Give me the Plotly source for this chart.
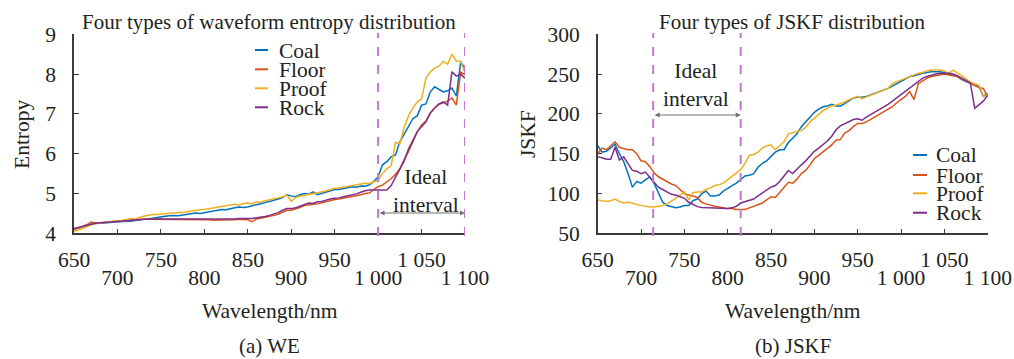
import plotly.graph_objects as go

W, H = 1014, 359
FONT = "Liberation Serif"

# ---------------- data ----------------
wl = list(range(650, 1101, 5))

we_coal = [4.10, 4.14, 4.17, 4.20, 4.23, 4.25, 4.25, 4.26, 4.27, 4.27, 4.28, 4.29, 4.30, 4.30, 4.32, 4.33,
           4.35, 4.36, 4.38, 4.40, 4.41, 4.43, 4.44, 4.45, 4.44, 4.46, 4.48, 4.50, 4.51, 4.50, 4.52, 4.55,
           4.56, 4.58, 4.60, 4.59, 4.62, 4.64, 4.66, 4.65, 4.66, 4.70, 4.72, 4.74, 4.77, 4.80, 4.82, 4.86,
           4.90, 4.97, 4.94, 4.92, 4.97, 5.00, 4.98, 5.04, 4.97, 5.00, 5.03, 5.06, 5.10, 5.10, 5.12, 5.14,
           5.17, 5.16, 5.19, 5.18, 5.22, 5.30, 5.42, 5.72, 5.80, 5.92, 5.97, 6.30, 6.50, 6.70, 6.88, 6.95,
           7.22, 7.25, 7.55, 7.68, 7.62, 7.55, 7.58, 7.65, 7.45, 8.30, 8.15]
we_floor = [4.10, 4.13, 4.17, 4.22, 4.28, 4.26, 4.27, 4.28, 4.28, 4.30, 4.30, 4.31, 4.32, 4.33, 4.34, 4.35,
            4.35, 4.35, 4.35, 4.35, 4.34, 4.35, 4.35, 4.35, 4.34, 4.34, 4.34, 4.35, 4.35, 4.34, 4.34, 4.34,
            4.33, 4.33, 4.33, 4.34, 4.33, 4.34, 4.35, 4.35, 4.34, 4.29, 4.36, 4.38, 4.40, 4.43, 4.45, 4.48,
            4.53, 4.58, 4.58, 4.61, 4.65, 4.70, 4.72, 4.73, 4.74, 4.76, 4.79, 4.82, 4.85, 4.86, 4.88, 4.90,
            4.93, 4.94, 4.97, 5.00, 5.01, 5.10, 5.17, 5.21, 5.28, 5.37, 5.48, 5.62, 5.85, 6.05, 6.30, 6.55,
            6.72, 6.82, 7.02, 7.15, 7.24, 7.28, 7.32, 7.40, 7.22, 8.05, 7.98]
we_proof = [4.05, 4.08, 4.12, 4.17, 4.22, 4.24, 4.25, 4.28, 4.28, 4.30, 4.30, 4.32, 4.34, 4.37, 4.36, 4.40,
            4.43, 4.45, 4.47, 4.47, 4.48, 4.50, 4.50, 4.51, 4.52, 4.52, 4.54, 4.56, 4.57, 4.59, 4.60, 4.62,
            4.64, 4.66, 4.68, 4.70, 4.72, 4.73, 4.71, 4.75, 4.76, 4.74, 4.79, 4.78, 4.82, 4.84, 4.86, 4.89,
            4.92, 4.96, 4.80, 4.90, 4.93, 4.95, 4.97, 4.99, 5.01, 5.03, 5.06, 5.10, 5.13, 5.14, 5.16, 5.18,
            5.20, 5.21, 5.23, 5.26, 5.25, 5.30, 5.33, 5.50, 5.62, 5.70, 6.28, 6.25, 6.65, 6.95, 7.15, 7.30,
            7.38, 7.90, 8.05, 8.15, 8.20, 8.32, 8.25, 8.50, 8.33, 8.32, 8.02]
we_rock = [4.12, 4.15, 4.17, 4.20, 4.23, 4.25, 4.26, 4.27, 4.28, 4.29, 4.29, 4.30, 4.31, 4.32, 4.33, 4.34,
           4.35, 4.36, 4.36, 4.36, 4.35, 4.36, 4.35, 4.35, 4.36, 4.35, 4.35, 4.35, 4.36, 4.35, 4.35, 4.36,
           4.35, 4.35, 4.36, 4.35, 4.36, 4.36, 4.37, 4.37, 4.37, 4.37, 4.39, 4.40, 4.42, 4.45, 4.48, 4.52,
           4.58, 4.62, 4.62, 4.64, 4.68, 4.73, 4.76, 4.75, 4.79, 4.80, 4.84, 4.86, 4.88, 4.89, 4.92, 4.94,
           4.96, 4.99, 5.03, 5.07, 5.09, 5.09, 5.09, 5.10, 5.09, 5.20, 5.40, 5.62, 5.82, 6.12, 6.35, 6.55,
           6.68, 6.80, 7.02, 7.15, 7.25, 7.30, 7.22, 8.06, 7.95, 8.00, 7.90]

jskf_coal = [160, 152, 153, 158, 162, 150, 140, 125, 108, 115, 113, 117, 121, 113, 100, 89, 85, 83, 82, 83,
             85, 85, 91, 93, 100, 103, 97, 97, 98, 103, 107, 110, 113, 117, 122, 123, 125, 133, 138, 141,
             146, 152, 155, 155, 164, 170, 175, 184, 190, 197, 202, 206, 209, 210, 212, 210, 210, 213, 217,
             220, 221, 221, 222, 224, 226, 228, 230, 232, 235, 238, 241, 244, 247, 248, 250, 251, 252, 253,
             253, 253, 252, 250, 248, 247, 243, 241, 238, 236, 234, 222, 226]
jskf_floor = [150, 157, 155, 160, 165, 158, 156, 155, 155, 150, 141, 140, 134, 126, 121, 118, 114, 112, 110,
              105, 100, 98, 97, 95, 89, 87, 85, 84, 83, 82, 81, 81, 80, 80, 80, 82, 84, 85, 88, 92, 96, 95,
              101, 107, 114, 113, 118, 125, 129, 136, 144, 148, 152, 157, 161, 167, 168, 176, 179, 184, 188,
              188, 190, 193, 196, 199, 202, 205, 209, 214, 218, 222, 228, 218, 238, 242, 245, 247, 248, 249,
              250, 249, 248, 247, 244, 241, 238, 236, 233, 232, 221]
jskf_proof = [92, 91, 90, 91, 93, 90, 88, 89, 88, 86, 85, 84, 83, 83, 84, 85, 87, 90, 94, 98, 102, 92, 101,
              102, 102, 105, 107, 110, 111, 113, 117, 122, 126, 130, 138, 148, 149, 152, 157, 160, 161, 155,
              160, 165, 175, 177, 178, 179, 183, 190, 195, 200, 204, 207, 210, 211, 213, 215, 218, 220, 222,
              219, 221, 224, 226, 228, 230, 232, 238, 240, 242, 245, 247, 249, 251, 252, 254, 255, 255, 255,
              254, 251, 255, 252, 248, 244, 240, 238, 236, 222, 224]
jskf_rock = [146, 145, 143, 143, 158, 142, 146, 138, 129, 128, 125, 127, 121, 114, 108, 105, 102, 99, 98, 96,
             94, 89, 86, 83.5, 82.5, 82.3, 82, 81.6, 81.4, 81.2, 81.2, 82, 84, 88, 90, 91, 93, 97, 101, 105,
             108, 110, 115, 122, 129, 125, 131, 136, 141, 147, 153, 157, 161, 166, 172, 180, 185, 188, 190,
             193, 194, 192, 196, 199, 202, 205, 208, 212, 216, 220, 224, 229, 233, 237, 241, 245, 247, 249,
             250, 251, 251, 251, 250, 248, 245, 242, 239, 207, 211, 216, 224]

names = ["Coal", "Floor", "Proof", "Rock"]
colors = ["#0072BD", "#D95319", "#EDB120", "#7E2F8E"]

we_series = [we_coal, we_floor, we_proof, we_rock]
jskf_series = [jskf_coal, jskf_floor, jskf_proof, jskf_rock]

we_interval = [1000, 1100]
jskf_interval = [714, 815]

row1_vals = [650, 750, 850, 950, 1050]
row1_text = ["650", "750", "850", "950", "1 050"]
row2_vals = [700, 800, 900, 1000, 1100]
row2_text = ["700", "800", "900", "1 000", "1 100"]

# ---------------- figure ----------------
fig = go.Figure()

for name, col, ys in zip(names, colors, we_series):
    fig.add_trace(go.Scatter(x=wl, y=ys, mode="lines", name=name, xaxis="x", yaxis="y",
                             line=dict(color=col, width=1.5), showlegend=False))
for name, col, ys in zip(names, colors, jskf_series):
    fig.add_trace(go.Scatter(x=wl, y=ys, mode="lines", name=name, xaxis="x2", yaxis="y2",
                             line=dict(color=col, width=1.5), showlegend=False))
# invisible carriers so the second-row tick axes get drawn
for xa, ya in [("x3", "y"), ("x4", "y2")]:
    fig.add_trace(go.Scatter(x=row2_vals, y=[None] * len(row2_vals), mode="lines", xaxis=xa, yaxis=ya,
                             showlegend=False, hoverinfo="skip"))


def px(x):
    return x / W


def py(y):
    return 1 - y / H


left_dom = [px(74), px(465)]
right_dom = [px(597.7), px(987.7)]
y_dom = [py(233.3), py(34.3)]

AX_COL = "#3a3a3a"
TXT_COL = "#231f20"
FS = 21.5
tickfont = dict(family=FONT, size=FS, color=TXT_COL)

base_x = dict(range=[650, 1100], showline=True, linecolor=AX_COL, linewidth=1.5,
              ticks="inside", ticklen=5, tickcolor=AX_COL, tickwidth=1.2,
              tickvals=row1_vals + row2_vals, ticktext=row1_text + [""] * 5,
              tickfont=tickfont, showgrid=False, zeroline=False, ticklabelstandoff=6,
              fixedrange=True, automargin=False)
row2_x = dict(range=[650, 1100], showline=False, ticks="", tickvals=row2_vals, ticktext=row2_text,
              tickfont=tickfont, showgrid=False, zeroline=False, ticklabelstandoff=29, fixedrange=True,
              automargin=False)
base_y = dict(showline=True, linecolor=AX_COL, linewidth=1.5, ticks="inside", ticklen=5,
              tickcolor=AX_COL, tickwidth=1.2, tickfont=tickfont, showgrid=False, zeroline=False,
              ticklabelstandoff=12, fixedrange=True, automargin=False)

fig.update_layout(
    width=W, height=H,
    margin=dict(l=0, r=0, t=0, b=0, autoexpand=False),
    paper_bgcolor="white", plot_bgcolor="white",
    font=dict(family=FONT, color=TXT_COL),
    xaxis=dict(domain=left_dom, anchor="y", **base_x),
    yaxis=dict(domain=y_dom, anchor="x", range=[4, 9], dtick=1, **base_y),
    xaxis2=dict(domain=right_dom, anchor="y2", **base_x),
    yaxis2=dict(domain=y_dom, anchor="x2", range=[50, 300], dtick=50, **base_y),
    xaxis3=dict(overlaying="x", anchor="y", **row2_x),
    xaxis4=dict(overlaying="x2", anchor="y2", **row2_x),
)

# dashed ideal-interval lines
DASH_COL = "#C07ACB"
for xv in we_interval:
    fig.add_shape(type="line", xref="x", yref="paper", x0=xv, x1=xv, y0=py(236), y1=py(33),
                  line=dict(color=DASH_COL, width=2, dash="dash"))
for xv in jskf_interval:
    fig.add_shape(type="line", xref="x2", yref="paper", x0=xv, x1=xv, y0=py(236), y1=py(33),
                  line=dict(color=DASH_COL, width=2, dash="dash"))

# double arrows
ARR_COL = "#707070"
for xr, yr, x0, x1, yv in [("x", "y", we_interval[0], we_interval[1], 4.51),
                           ("x2", "y2", jskf_interval[0], jskf_interval[1], 198.6)]:
    fig.add_annotation(x=x1, y=yv, ax=x0, ay=yv, xref=xr, yref=yr, axref=xr, ayref=yr,
                       text="", showarrow=True, arrowhead=2, startarrowhead=2, arrowside="end+start",
                       arrowsize=1, arrowwidth=1, arrowcolor=ARR_COL, standoff=0, startstandoff=0)

ann_font = dict(family=FONT, size=FS, color=TXT_COL)


def text(x, y, s, size=FS, angle=0):
    fig.add_annotation(x=px(x), y=py(y), xref="paper", yref="paper", text=s, showarrow=False,
                       xanchor="center", yanchor="middle", textangle=angle,
                       font=dict(family=FONT, size=size, color=TXT_COL))


text(426, 191, "Ideal<br>interval")
text(696, 85, "Ideal<br>interval")

text(269, 22, "Four types of waveform entropy distribution", 21)
text(792, 22, "Four types of JSKF distribution", 21)
text(22, 134, "Entropy", FS, -90)
text(528, 134, "JSKF", FS, -90)
text(270, 311, "Wavelength/nm", FS)
text(793, 311, "Wavelength/nm", FS)
text(269, 345.5, "(a) WE", 21)
text(793, 345.5, "(b) JSKF", 21)

# legends (compact rows, like the reference)
for (lx0, lx1, tx, ys) in [(255, 268, 278, [50, 69.3, 88.3, 107.3]),
                           (913, 927, 935, [155, 175, 193.3, 212.7])]:
    for name, col, yy in zip(names, colors, ys):
        fig.add_shape(type="line", xref="paper", yref="paper", x0=px(lx0), x1=px(lx1),
                      y0=py(yy), y1=py(yy), line=dict(color=col, width=2))
        fig.add_annotation(x=px(tx), y=py(yy), xref="paper", yref="paper", text=name,
                           showarrow=False, xanchor="left", yanchor="middle", font=ann_font,
                           height=19, valign="middle", borderpad=0)

fig.write_html("out.html", config={"displayModeBar": False},
               post_script="document.body.style.margin='0';document.body.style.overflow='hidden';")
